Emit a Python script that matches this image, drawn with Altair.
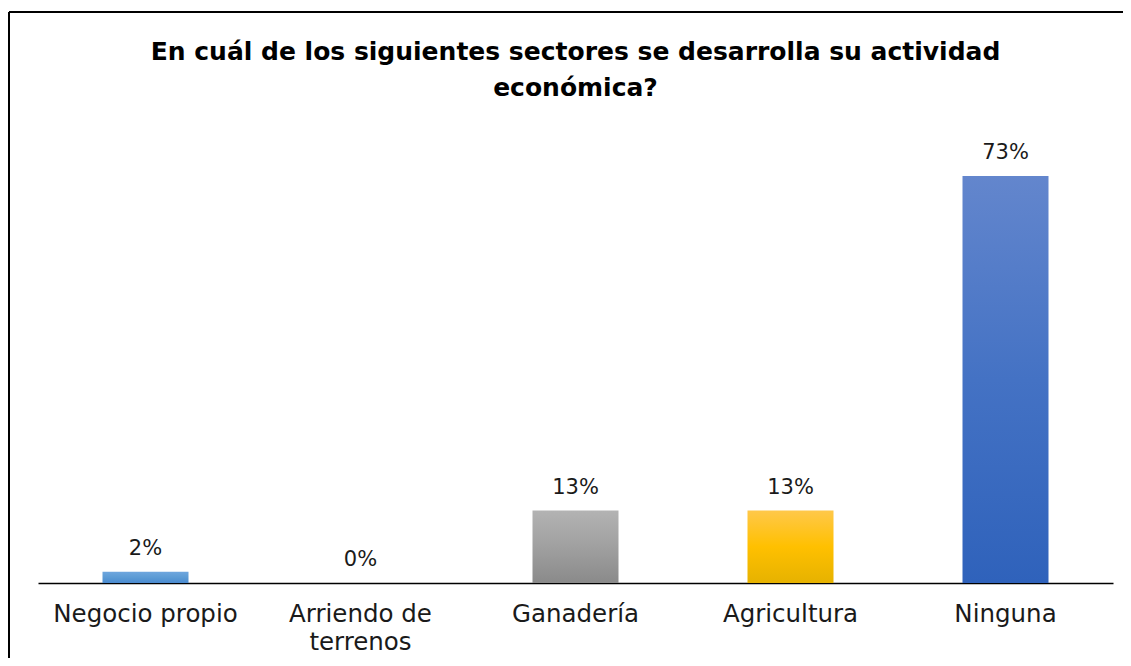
import altair as alt
import pandas as pd

categories = ["Negocio propio", "Arriendo de terrenos", "Ganadería", "Agricultura", "Ninguna"]
values = [2, 0, 13, 13, 73]
labels = ["2%", "0%", "13%", "13%", "73%"]

title_lines = ["En cuál de los siguientes sectores se desarrolla su actividad", "económica?"]

# style: gradient (top, mid, bottom) per bar
bar_gradients = [
    ["#6ea6de", "#5b9bd5", "#4a8ad0"],
    ["#6ea6de", "#5b9bd5", "#4a8ad0"],
    ["#b3b3b3", "#a0a0a0", "#8a8a8a"],
    ["#ffc84a", "#ffc000", "#e6b200"],
    ["#6386cd", "#4472c4", "#2f62bb"],
]

df = pd.DataFrame({"cat": categories, "val": values, "lab": labels})

FONT = "DejaVu Sans"
W, H = 1075, 446

x_enc = alt.X(
    "cat:N",
    sort=categories,
    scale=alt.Scale(paddingInner=0.6, paddingOuter=0.3),
    axis=alt.Axis(
        title=None,
        labelAngle=0,
        ticks=False,
        domainColor="#000000",
        domainWidth=1.5,
        labelFont=FONT,
        labelFontSize=24.5,
        labelColor="#1a1a1a",
        labelPadding=19,
        labelLineHeight=28,
        labelBaseline="top",
        labelLimit=400,
        labelExpr="datum.label == 'Arriendo de terrenos' ? ['Arriendo de', 'terrenos'] : datum.label",
    ),
)
y_scale = alt.Scale(domain=[0, 80])
y_enc = alt.Y("val:Q", scale=y_scale, axis=None)

base = alt.Chart(df)

layers = []
for cat, g in zip(categories, bar_gradients):
    grad = alt.Gradient(
        gradient="linear",
        stops=[
            alt.GradientStop(color=g[0], offset=0),
            alt.GradientStop(color=g[1], offset=0.5),
            alt.GradientStop(color=g[2], offset=1),
        ],
        x1=0, x2=0, y1=0, y2=1,
    )
    layers.append(
        base.transform_filter(alt.datum.cat == cat)
        .mark_bar(color=grad)
        .encode(x=x_enc, y=y_enc)
    )

text = base.mark_text(
    font=FONT, fontSize=21, color="#1a1a1a", baseline="alphabetic", dy=-17
).encode(x=alt.X("cat:N", sort=categories), y=y_enc, text="lab:N")

border_top = base.mark_rule(color="#000000", strokeWidth=2).encode(
    x=alt.value(-29), x2=alt.value(1090), y=alt.value(-125)
)
border_left = base.mark_rule(color="#000000", strokeWidth=2).encode(
    x=alt.value(-29), y=alt.value(-125), y2=alt.value(530)
)

chart = (
    alt.layer(*layers, text, border_top, border_left)
    .properties(
        width=W,
        height=H,
        title=alt.TitleParams(
            text=title_lines,
            font=FONT,
            fontSize=25,
            fontWeight="bold",
            color="#000000",
            anchor="middle",
            offset=-90,
            lineHeight=36,
        ),
        padding={"left": 30, "top": 129, "right": 10, "bottom": 75},
        autosize=alt.AutoSizeParams(type="none"),
    )
    .configure(background="#ffffff")
    .configure_view(stroke=None)
)

chart.save("out.html", embed_options={"renderer": "svg", "actions": False})
